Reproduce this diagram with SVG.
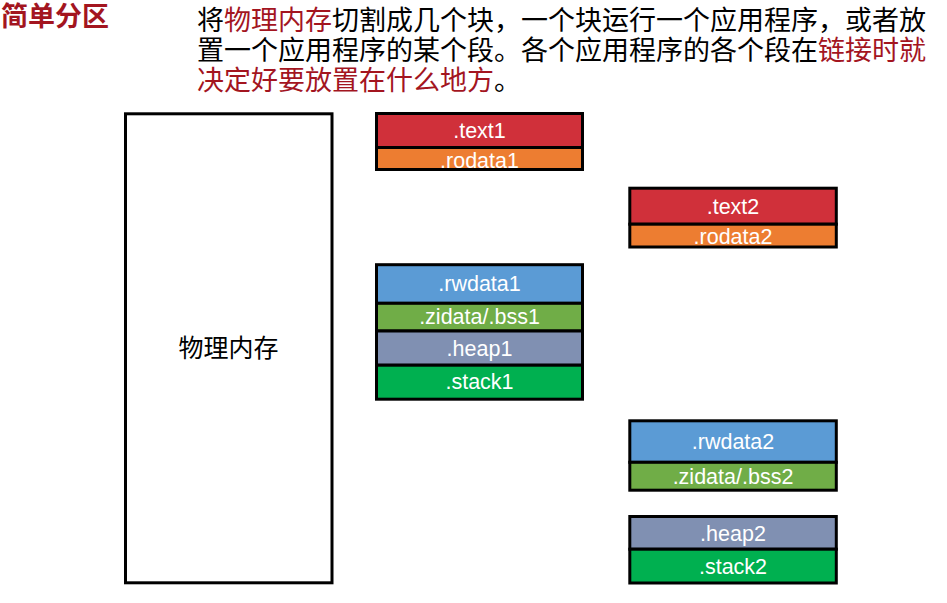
<svg xmlns="http://www.w3.org/2000/svg" width="947" height="603" viewBox="0 0 947 603">
<style>
.box{stroke:#000;stroke-width:3}
.lbl{font-family:"Liberation Sans",Arial,sans-serif;font-size:21.5px;fill:#fff;text-anchor:middle}
.cjk{font-family:"Noto Sans CJK SC",sans-serif}
.red{fill:#A3151F}
.r{fill:#D0303A}.o{fill:#ED7D31}.b{fill:#5B9BD5}.g{fill:#70AD47}.h{fill:#8090B2}.s{fill:#00B050}
</style>
<rect width="947" height="603" fill="#fff"/>
<g id="title">
<text x="1" y="26" class="cjk red" font-size="27" font-weight="bold">简单分区</text>
</g>
<g id="description" class="cjk" font-size="27" fill="#000">
<text x="197" y="30">将<tspan class="red">物理内存</tspan>切割成几个块，一个块运行一个应用程序，或者放</text>
<text x="197" y="60">置一个应用程序的某个段。各个应用程序的各个段在<tspan class="red">链接时就</tspan></text>
<text x="197" y="90"><tspan class="red">决定好要放置在什么地方</tspan>。</text>
</g>
<g id="memory">
<rect class="box" x="125.5" y="113.8" width="206.5" height="469" fill="#fff"/>
<text x="228.5" y="357" class="cjk" font-size="25" text-anchor="middle" fill="#000">物理内存</text>
</g>
<g id="app1-code">
<rect class="box r" x="376.5" y="113.5" width="206" height="34"/>
<rect class="box o" x="376.5" y="147.5" width="206" height="22"/>
<text class="lbl" x="479.5" y="138.3">.text1</text>
<text class="lbl" x="479.5" y="167.5">.rodata1</text>
</g>
<g id="app2-code">
<rect class="box r" x="629.8" y="188.2" width="206.5" height="36"/>
<rect class="box o" x="629.8" y="224.2" width="206.5" height="22.8"/>
<text class="lbl" x="733" y="213.5">.text2</text>
<text class="lbl" x="733" y="244">.rodata2</text>
</g>
<g id="app1-data">
<rect class="box b" x="376.5" y="264.7" width="206" height="38.6"/>
<rect class="box g" x="376.5" y="303.3" width="206" height="27.7"/>
<rect class="box h" x="376.5" y="331" width="206" height="34.2"/>
<rect class="box s" x="376.5" y="365.2" width="206" height="34"/>
<text class="lbl" x="479.5" y="290.7">.rwdata1</text>
<text class="lbl" x="479.5" y="324.3">.zidata/.bss1</text>
<text class="lbl" x="479.5" y="355.7">.heap1</text>
<text class="lbl" x="479.5" y="389.3">.stack1</text>
</g>
<g id="app2-data">
<rect class="box b" x="629.8" y="420.8" width="206.5" height="41.5"/>
<rect class="box g" x="629.8" y="462.3" width="206.5" height="27.9"/>
<text class="lbl" x="733" y="449">.rwdata2</text>
<text class="lbl" x="733" y="484">.zidata/.bss2</text>
</g>
<g id="app2-stack">
<rect class="box h" x="629.8" y="516.5" width="206.5" height="32.7"/>
<rect class="box s" x="629.8" y="549.2" width="206.5" height="33.8"/>
<text class="lbl" x="733" y="540.7">.heap2</text>
<text class="lbl" x="733" y="574">.stack2</text>
</g>
<g id="connectors"/>
</svg>
